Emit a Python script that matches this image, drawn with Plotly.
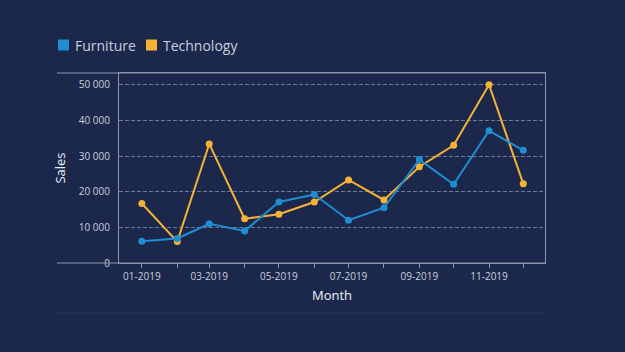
import plotly.graph_objects as go

months = ["2019-01-01", "2019-02-01", "2019-03-01", "2019-04-01", "2019-05-01", "2019-06-01",
          "2019-07-01", "2019-08-01", "2019-09-01", "2019-10-01", "2019-11-01", "2019-12-01"]
furniture = [6100, 6900, 11000, 9000, 17100, 19200, 12000, 15500, 29000, 22100, 37100, 31600]
technology = [16700, 6000, 33400, 12400, 13700, 17100, 23300, 17700, 27000, 33000, 50000, 22200]
series_names = ["Furniture", "Technology"]

BG = "#1b284c"
BLUE = "#1f8ed1"
ORANGE = "#f6b234"
TXT = "#c9cfdc"
LINE = "#8b94ac"

W, H = 625, 352
L, R, T, B = 119, 545, 73, 263


def px(x):
    return (x - L) / (R - L)


def py(y):
    return (B - y) / (B - T)


fig = go.Figure()
fig.add_trace(go.Scatter(x=months, y=technology, mode="lines+markers", name=series_names[1],
                         line=dict(color=ORANGE, width=2), marker=dict(size=7, color=ORANGE),
                         showlegend=False))
fig.add_trace(go.Scatter(x=months, y=furniture, mode="lines+markers", name=series_names[0],
                         line=dict(color=BLUE, width=2), marker=dict(size=7, color=BLUE),
                         showlegend=False))

legend_items = [(series_names[0], BLUE, 58, 73), (series_names[1], ORANGE, 146, 161)]
shapes = [
    dict(type="line", xref="paper", yref="paper", x0=px(57), x1=1, y0=1, y1=1,
         line=dict(color=LINE, width=1)),
    dict(type="line", xref="paper", yref="paper", x0=px(57), x1=1, y0=0, y1=0,
         line=dict(color=LINE, width=1)),
    dict(type="line", xref="paper", yref="paper", x0=px(57), x1=1, y0=py(313), y1=py(313),
         line=dict(color="#2a3760", width=1)),
]
annotations = []
for name, col, sx, tx in legend_items:
    shapes.append(dict(type="rect", xref="paper", yref="paper", x0=px(sx), x1=px(sx + 11),
                       y0=py(50.5), y1=py(39.5), fillcolor=col, line=dict(width=0)))
    annotations.append(dict(text=name, xref="paper", yref="paper", x=px(tx), y=py(45),
                            xanchor="left", yanchor="middle", showarrow=False,
                            font=dict(size=14, color=TXT)))

fig.update_layout(
    width=W, height=H,
    margin=dict(l=L, r=W - R, t=T, b=H - B),
    paper_bgcolor=BG, plot_bgcolor=BG,
    font=dict(family="Open Sans, Noto Sans, sans-serif", color=TXT, size=10),
    separators=". ",
    showlegend=False,
    xaxis=dict(
        type="date",
        range=["2018-12-12", "2019-12-20"],
        tick0="2019-01-01", dtick="M2", tickformat="%m-%Y",
        ticks="outside", ticklen=4, tickcolor=LINE,
        minor=dict(dtick="M1", tick0="2019-01-01", ticks="outside", ticklen=4, tickcolor=LINE, showgrid=False),
        showgrid=False, showline=True, linecolor=LINE, linewidth=1, mirror=True,
        tickfont=dict(size=10, color=TXT),
        title=dict(text="Month", font=dict(size=13, color="#eef1f6"), standoff=8),
        zeroline=False,
    ),
    yaxis=dict(
        range=[0, 53300],
        tickvals=[0, 10000, 20000, 30000, 40000, 50000],
        tickformat=",d",
        showgrid=True, gridcolor="#6f7993", griddash="4px,2px", gridwidth=1,
        showline=True, linecolor=LINE, linewidth=1, mirror=True,
        ticks="", ticklabelstandoff=6,
        tickfont=dict(size=10, color=TXT),
        title=dict(text="Sales", font=dict(size=13, color="#eef1f6"), standoff=10),
        zeroline=False,
    ),
    shapes=shapes,
    annotations=annotations,
)

fig.write_html("out.html")
